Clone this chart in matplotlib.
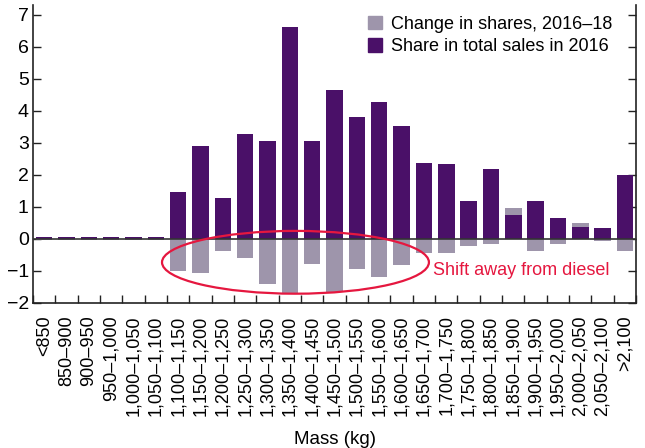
import matplotlib
matplotlib.use("Agg")
import matplotlib.pyplot as plt
from matplotlib.patches import Ellipse, Patch
from matplotlib.ticker import FixedLocator
import numpy as np

plt.rcParams['font.family'] = ['Liberation Sans', 'DejaVu Sans']

# mass bins (kg)
categories = ["<850", "850–900", "900–950", "950–1,000", "1,000–1,050", "1,050–1,100",
              "1,100–1,150", "1,150–1,200", "1,200–1,250", "1,250–1,300", "1,300–1,350",
              "1,350–1,400", "1,400–1,450", "1,450–1,500", "1,500–1,550", "1,550–1,600",
              "1,600–1,650", "1,650–1,700", "1,700–1,750", "1,750–1,800", "1,800–1,850",
              "1,850–1,900", "1,900–1,950", "1,950–2,000", "2,000–2,050", "2,050–2,100",
              ">2,100"]

# share in total sales in 2016 (%)
share_2016 = [0.06, 0.06, 0.06, 0.06, 0.06, 0.06,
              1.46, 2.89, 1.28, 3.27, 3.05, 6.60, 3.05, 4.64, 3.80, 4.26,
              3.52, 2.37, 2.33, 1.18, 2.18, 0.75, 1.18, 0.65, 0.37, 0.34, 1.99]

# change in shares 2016-18 (pp)
change_16_18 = [-0.04, -0.04, -0.04, -0.04, -0.04, -0.04,
                -0.99, -1.06, -0.39, -0.61, -1.42, -1.69, -0.77, -1.66, -0.95, -1.20,
                -0.80, -0.43, -0.43, -0.21, -0.15, 0.96, -0.39, -0.15, 0.50, -0.05, -0.39]

purple = "#4a1068"
grey = "#9e95ab"
red = "#e5173f"

x = np.arange(len(categories))

fig = plt.figure(figsize=(6.45, 4.48), dpi=100)
ax = fig.add_axes([0.0512, 0.3237, 0.935, 0.665])

ax.bar(x, change_16_18, width=0.74, color=grey, zorder=2)
ax.bar(x, share_2016, width=0.74, color=purple, zorder=3)
ax.axhline(0, color="#333333", lw=1.2, zorder=4)

ax.set_xlim(-0.5, len(categories) - 0.5)
ax.set_ylim(-2, 7.3)
ax.set_yticks(range(-2, 8))
ax.set_yticklabels(["\u22122", "\u22121"] + [str(i) for i in range(0, 8)], fontsize=14)

ax.set_xticks(x)
ax.set_xticklabels(categories, rotation=90, fontsize=13)
ax.tick_params(axis='x', which='major', length=0, pad=9)
ax.xaxis.set_minor_locator(FixedLocator(np.arange(-0.5, len(categories), 1)))
ax.tick_params(axis='x', which='minor', direction='in', length=6, width=1, color='#222222')
ax.tick_params(axis='y', direction='in', length=6, width=1, color='#222222', right=True, pad=3)

for s in ["left", "right", "bottom"]:
    ax.spines[s].set_color("#222222")
    ax.spines[s].set_linewidth(1.2)
ax.spines["top"].set_visible(False)

ax.set_xlabel("Mass (kg)", fontsize=13.5, labelpad=11)

# annotation
ax.add_patch(Ellipse((11.25, -0.73), 11.95, 1.96, fill=False, ec=red, lw=1.6, zorder=5))
ax.text(17.4, -1.0, "Shift away from diesel", color=red, fontsize=13, va="center", ha="left")

handles = [Patch(color=grey, label="Change in shares, 2016–18"),
           Patch(color=purple, label="Share in total sales in 2016")]
ax.legend(handles=handles, loc="upper left", bbox_to_anchor=(0.538, 1.0), frameon=False,
          fontsize=13, handlelength=0.75, handleheight=0.75, handletextpad=0.5,
          labelspacing=0.3, borderaxespad=0.2)

fig.savefig("out.png", dpi=100)
